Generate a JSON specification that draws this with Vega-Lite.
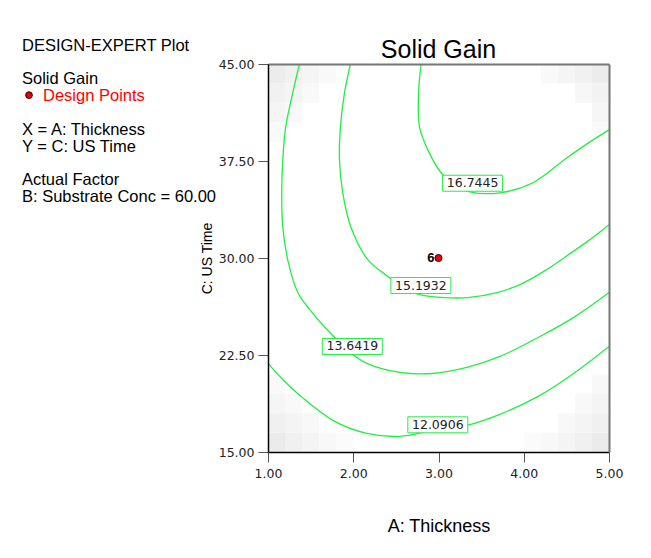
{
  "$schema": "https://vega.github.io/schema/vega-lite/v6.json",
  "padding": {"left": 22, "top": 37, "right": 5, "bottom": 5},
  "background": "white",
  "bounds": "flush",
  "spacing": 46,
  "config": {"view": {"stroke": null}, "font": "Liberation Sans"},
  "datasets": {
    "info": [
      {"kind": "plain", "col": 0, "line": 0, "text": "DESIGN-EXPERT Plot"},
      {"kind": "plain", "col": 0, "line": 2, "text": "Solid Gain"},
      {"kind": "legend", "col": 0, "line": 3, "text": "Design Points"},
      {"kind": "plain", "col": 0, "line": 5, "text": "X = A: Thickness"},
      {"kind": "plain", "col": 0, "line": 6, "text": "Y = C: US Time"},
      {"kind": "plain", "col": 0, "line": 8, "text": "Actual Factor"},
      {"kind": "plain", "col": 0, "line": 9, "text": "B: Substrate Conc = 60.00"}
    ],
    "cells": [
      {"x": 1.0, "xe": 1.2, "y": 43.5, "ye": 45, "g": "#ececec"},
      {"x": 1.2, "xe": 1.4, "y": 43.5, "ye": 45, "g": "#f1f1f1"},
      {"x": 1.4, "xe": 1.6, "y": 43.5, "ye": 45, "g": "#f5f5f5"},
      {"x": 1.6, "xe": 1.8, "y": 43.5, "ye": 45, "g": "#f9f9f9"},
      {"x": 1.0, "xe": 1.2, "y": 42, "ye": 43.5, "g": "#f1f1f1"},
      {"x": 1.2, "xe": 1.4, "y": 42, "ye": 43.5, "g": "#f5f5f5"},
      {"x": 1.4, "xe": 1.6, "y": 42, "ye": 43.5, "g": "#f9f9f9"},
      {"x": 1.0, "xe": 1.2, "y": 40.5, "ye": 42, "g": "#f5f5f5"},
      {"x": 1.2, "xe": 1.4, "y": 40.5, "ye": 42, "g": "#f9f9f9"},
      {"x": 1.0, "xe": 1.2, "y": 39, "ye": 40.5, "g": "#f9f9f9"},
      {"x": 4.8, "xe": 5.0, "y": 43.5, "ye": 45, "g": "#ececec"},
      {"x": 4.6, "xe": 4.8, "y": 43.5, "ye": 45, "g": "#f1f1f1"},
      {"x": 4.4, "xe": 4.6, "y": 43.5, "ye": 45, "g": "#f5f5f5"},
      {"x": 4.2, "xe": 4.4, "y": 43.5, "ye": 45, "g": "#f9f9f9"},
      {"x": 4.8, "xe": 5.0, "y": 42, "ye": 43.5, "g": "#f2f2f2"},
      {"x": 4.6, "xe": 4.8, "y": 42, "ye": 43.5, "g": "#f7f7f7"},
      {"x": 4.8, "xe": 5.0, "y": 40.5, "ye": 42, "g": "#f6f6f6"},
      {"x": 4.8, "xe": 5.0, "y": 39, "ye": 40.5, "g": "#fafafa"},
      {"x": 1.0, "xe": 1.2, "y": 15, "ye": 16.5, "g": "#ebebeb"},
      {"x": 1.2, "xe": 1.4, "y": 15, "ye": 16.5, "g": "#f0f0f0"},
      {"x": 1.4, "xe": 1.6, "y": 15, "ye": 16.5, "g": "#f4f4f4"},
      {"x": 1.6, "xe": 1.8, "y": 15, "ye": 16.5, "g": "#f8f8f8"},
      {"x": 1.8, "xe": 2.0, "y": 15, "ye": 16.5, "g": "#fbfbfb"},
      {"x": 1.0, "xe": 1.2, "y": 16.5, "ye": 18, "g": "#f0f0f0"},
      {"x": 1.2, "xe": 1.4, "y": 16.5, "ye": 18, "g": "#f4f4f4"},
      {"x": 1.4, "xe": 1.6, "y": 16.5, "ye": 18, "g": "#f8f8f8"},
      {"x": 1.0, "xe": 1.2, "y": 18, "ye": 19.5, "g": "#f5f5f5"},
      {"x": 1.2, "xe": 1.4, "y": 18, "ye": 19.5, "g": "#f9f9f9"},
      {"x": 1.0, "xe": 1.2, "y": 19.5, "ye": 21, "g": "#f9f9f9"},
      {"x": 4.8, "xe": 5.0, "y": 15, "ye": 16.5, "g": "#ebebeb"},
      {"x": 4.6, "xe": 4.8, "y": 15, "ye": 16.5, "g": "#f0f0f0"},
      {"x": 4.4, "xe": 4.6, "y": 15, "ye": 16.5, "g": "#f4f4f4"},
      {"x": 4.2, "xe": 4.4, "y": 15, "ye": 16.5, "g": "#f8f8f8"},
      {"x": 4.0, "xe": 4.2, "y": 15, "ye": 16.5, "g": "#fbfbfb"},
      {"x": 4.8, "xe": 5.0, "y": 16.5, "ye": 18, "g": "#f0f0f0"},
      {"x": 4.6, "xe": 4.8, "y": 16.5, "ye": 18, "g": "#f4f4f4"},
      {"x": 4.4, "xe": 4.6, "y": 16.5, "ye": 18, "g": "#f8f8f8"},
      {"x": 4.8, "xe": 5.0, "y": 18, "ye": 19.5, "g": "#f4f4f4"},
      {"x": 4.6, "xe": 4.8, "y": 18, "ye": 19.5, "g": "#f8f8f8"},
      {"x": 4.8, "xe": 5.0, "y": 19.5, "ye": 21, "g": "#f8f8f8"}
    ],
    "contours": [
      {"level": "12.0906", "o": 0, "x": 1.000, "y": 21.85},
      {"level": "12.0906", "o": 1, "x": 1.184, "y": 20.53},
      {"level": "12.0906", "o": 2, "x": 1.372, "y": 19.38},
      {"level": "12.0906", "o": 3, "x": 1.760, "y": 17.45},
      {"level": "12.0906", "o": 4, "x": 2.159, "y": 16.44},
      {"level": "12.0906", "o": 5, "x": 2.546, "y": 16.21},
      {"level": "12.0906", "o": 6, "x": 2.934, "y": 16.67},
      {"level": "12.0906", "o": 7, "x": 3.333, "y": 17.06},
      {"level": "12.0906", "o": 8, "x": 3.721, "y": 17.91},
      {"level": "12.0906", "o": 9, "x": 4.190, "y": 19.38},
      {"level": "12.0906", "o": 10, "x": 4.601, "y": 21.15},
      {"level": "12.0906", "o": 11, "x": 5.000, "y": 23.16},
      {"level": "13.6419", "o": 0, "x": 1.369, "y": 45.00},
      {"level": "13.6419", "o": 1, "x": 1.290, "y": 42.76},
      {"level": "13.6419", "o": 2, "x": 1.208, "y": 40.14},
      {"level": "13.6419", "o": 3, "x": 1.173, "y": 37.59},
      {"level": "13.6419", "o": 4, "x": 1.161, "y": 35.04},
      {"level": "13.6419", "o": 5, "x": 1.173, "y": 32.42},
      {"level": "13.6419", "o": 6, "x": 1.231, "y": 29.87},
      {"level": "13.6419", "o": 7, "x": 1.349, "y": 27.33},
      {"level": "13.6419", "o": 8, "x": 1.490, "y": 26.01},
      {"level": "13.6419", "o": 9, "x": 1.748, "y": 24.08},
      {"level": "13.6419", "o": 10, "x": 1.995, "y": 22.54},
      {"level": "13.6419", "o": 11, "x": 2.159, "y": 21.85},
      {"level": "13.6419", "o": 12, "x": 2.546, "y": 21.15},
      {"level": "13.6419", "o": 13, "x": 2.934, "y": 21.07},
      {"level": "13.6419", "o": 14, "x": 3.333, "y": 21.54},
      {"level": "13.6419", "o": 15, "x": 3.721, "y": 22.39},
      {"level": "13.6419", "o": 16, "x": 4.190, "y": 23.93},
      {"level": "13.6419", "o": 17, "x": 4.601, "y": 25.47},
      {"level": "13.6419", "o": 18, "x": 5.000, "y": 27.33},
      {"level": "15.1932", "o": 0, "x": 1.967, "y": 45.00},
      {"level": "15.1932", "o": 1, "x": 1.897, "y": 42.76},
      {"level": "15.1932", "o": 2, "x": 1.850, "y": 40.14},
      {"level": "15.1932", "o": 3, "x": 1.838, "y": 37.59},
      {"level": "15.1932", "o": 4, "x": 1.877, "y": 35.04},
      {"level": "15.1932", "o": 5, "x": 1.971, "y": 32.42},
      {"level": "15.1932", "o": 6, "x": 2.171, "y": 29.87},
      {"level": "15.1932", "o": 7, "x": 2.425, "y": 28.48},
      {"level": "15.1932", "o": 8, "x": 2.605, "y": 27.63},
      {"level": "15.1932", "o": 9, "x": 2.781, "y": 27.17},
      {"level": "15.1932", "o": 10, "x": 3.074, "y": 26.94},
      {"level": "15.1932", "o": 11, "x": 3.344, "y": 26.94},
      {"level": "15.1932", "o": 12, "x": 3.685, "y": 27.33},
      {"level": "15.1932", "o": 13, "x": 3.955, "y": 27.94},
      {"level": "15.1932", "o": 14, "x": 4.249, "y": 29.02},
      {"level": "15.1932", "o": 15, "x": 4.507, "y": 30.18},
      {"level": "15.1932", "o": 16, "x": 4.777, "y": 31.42},
      {"level": "15.1932", "o": 17, "x": 5.000, "y": 32.57},
      {"level": "16.7445", "o": 0, "x": 2.796, "y": 45.00},
      {"level": "16.7445", "o": 1, "x": 2.766, "y": 42.76},
      {"level": "16.7445", "o": 2, "x": 2.777, "y": 40.14},
      {"level": "16.7445", "o": 3, "x": 2.875, "y": 38.36},
      {"level": "16.7445", "o": 4, "x": 3.031, "y": 36.59},
      {"level": "16.7445", "o": 5, "x": 3.192, "y": 35.66},
      {"level": "16.7445", "o": 6, "x": 3.368, "y": 35.12},
      {"level": "16.7445", "o": 7, "x": 3.721, "y": 35.04},
      {"level": "16.7445", "o": 8, "x": 4.108, "y": 35.82},
      {"level": "16.7445", "o": 9, "x": 4.507, "y": 37.75},
      {"level": "16.7445", "o": 10, "x": 4.777, "y": 38.98},
      {"level": "16.7445", "o": 11, "x": 5.000, "y": 39.91}
    ],
    "labels": [
      {"label": "16.7445", "x": 3.400, "y": 35.78},
      {"label": "15.1932", "x": 2.793, "y": 27.87},
      {"label": "13.6419", "x": 1.989, "y": 23.16},
      {"label": "12.0906", "x": 2.992, "y": 17.10}
    ],
    "design": [
      {"x": 3.0, "y": 30.0, "n": "6"}
    ]
  },
  "hconcat": [
    {
      "width": 200,
      "height": 388,
      "data": {"name": "info"},
      "encoding": {
        "x": {"field": "col", "type": "quantitative", "scale": {"domain": [0, 1]}, "axis": null},
        "y": {"field": "line", "type": "quantitative", "scale": {"domain": [0.8, 23.8], "reverse": true, "nice": false, "zero": false}, "axis": null}
      },
      "layer": [
        {
          "transform": [{"filter": "datum.kind == 'plain'"}],
          "mark": {"type": "text", "align": "left", "baseline": "alphabetic", "font": "Liberation Sans", "fontSize": 16.5, "color": "black"},
          "encoding": {"text": {"field": "text"}}
        },
        {
          "transform": [{"filter": "datum.kind == 'legend'"}],
          "mark": {"type": "text", "align": "left", "baseline": "alphabetic", "font": "Liberation Sans", "fontSize": 16.5, "color": "#ff0000", "dx": 21},
          "encoding": {"text": {"field": "text"}}
        },
        {
          "transform": [{"filter": "datum.kind == 'legend'"}],
          "mark": {"type": "point", "shape": "circle", "filled": true, "fill": "#ee0000", "stroke": "#220000", "strokeWidth": 1, "size": 45, "opacity": 1, "xOffset": 7, "yOffset": -6}
        }
      ]
    },
    {
      "width": 341,
      "height": 388,
      "title": {"text": "Solid Gain", "font": "Liberation Sans", "fontSize": 25, "fontWeight": "normal", "color": "black", "anchor": "middle", "frame": "group", "offset": -25, "baseline": "alphabetic"},
      "resolve": {"axis": {"x": "independent", "y": "independent"}},
      "encoding": {
        "x": {
          "field": "x", "type": "quantitative",
          "scale": {"domain": [1, 5], "nice": false, "zero": false},
          "axis": null
        },
        "y": {
          "field": "y", "type": "quantitative",
          "scale": {"domain": [15, 45], "nice": false, "zero": false},
          "axis": null
        }
      },
      "layer": [
        {
          "data": {"name": "cells"},
          "mark": {"type": "rect"},
          "encoding": {
            "x": {"field": "x", "type": "quantitative", "scale": {"domain": [1, 5], "nice": false, "zero": false}, "axis": {"values": [1, 2, 3, 4, 5], "format": ".2f", "grid": false, "zindex": 1, "tickSize": 10, "tickColor": "#555555", "tickWidth": 1, "domainColor": "black", "domainWidth": 1.5, "labelFont": "DejaVu Sans", "labelFontSize": 12.5, "labelColor": "#222222", "labelPadding": 5, "labelFlush": false, "labelOverlap": false, "title": "A: Thickness", "titleFont": "Liberation Sans", "titleFontSize": 18, "titleFontWeight": "normal", "titleColor": "black", "titlePadding": 38}},
            "y": {"field": "y", "type": "quantitative", "scale": {"domain": [15, 45], "nice": false, "zero": false}, "axis": {"values": [15, 22.5, 30, 37.5, 45], "format": ".2f", "grid": false, "zindex": 1, "tickSize": 10, "tickColor": "#555555", "tickWidth": 1, "domainColor": "black", "domainWidth": 1.5, "labelFont": "DejaVu Sans", "labelFontSize": 12.5, "labelColor": "#222222", "labelPadding": 4, "labelFlush": false, "labelOverlap": false, "title": "C: US Time", "titleFont": "Liberation Sans", "titleFontSize": 14, "titleFontWeight": "normal", "titleColor": "black", "titlePadding": 4}},
            "x2": {"field": "xe"},
            "y2": {"field": "ye"},
            "fill": {"field": "g", "type": "nominal", "scale": null}
          }
        },
        {
          "data": {"name": "design"},
          "mark": {"type": "point", "opacity": 0},
          "encoding": {
            "x": {"field": "x", "type": "quantitative", "scale": {"domain": [1, 5], "nice": false, "zero": false}, "axis": {"orient": "top", "zindex": 1, "grid": false, "ticks": false, "labels": false, "title": null, "domainColor": "#777777", "domainWidth": 2}},
            "y": {"field": "y", "type": "quantitative", "scale": {"domain": [15, 45], "nice": false, "zero": false}, "axis": {"orient": "right", "zindex": 1, "grid": false, "ticks": false, "labels": false, "title": null, "domainColor": "#777777", "domainWidth": 2}}
          }
        },
        {
          "data": {"name": "contours"},
          "mark": {"type": "line", "color": "#22ee44", "strokeWidth": 1.3, "interpolate": "catmull-rom"},
          "encoding": {
            "detail": {"field": "level", "type": "nominal"},
            "order": {"field": "o", "type": "quantitative"}
          }
        },
        {
          "data": {"name": "labels"},
          "mark": {"type": "point", "shape": "M-1,-0.2667H1V0.2667H-1Z", "size": 3600, "filled": false, "fill": "white", "fillOpacity": 1, "stroke": "#22ee44", "strokeWidth": 1, "opacity": 1}
        },
        {
          "data": {"name": "labels"},
          "mark": {"type": "text", "align": "center", "baseline": "middle", "font": "DejaVu Sans", "fontSize": 12.5, "color": "#222222"},
          "encoding": {"text": {"field": "label"}}
        },
        {
          "data": {"name": "design"},
          "mark": {"type": "point", "shape": "circle", "filled": true, "fill": "#ee0000", "stroke": "#330000", "strokeWidth": 1, "size": 50, "opacity": 1}
        },
        {
          "data": {"name": "design"},
          "mark": {"type": "text", "align": "right", "baseline": "middle", "dx": -4, "font": "Liberation Sans", "fontWeight": "bold", "fontSize": 13, "color": "black"},
          "encoding": {"text": {"field": "n"}}
        }
      ]
    }
  ]
}
